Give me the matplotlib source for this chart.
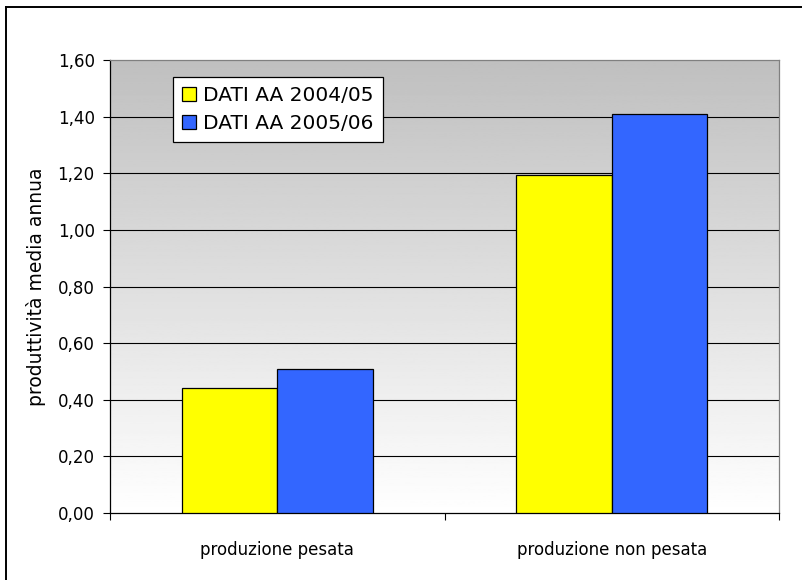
import numpy as np
import matplotlib
matplotlib.use("Agg")
import matplotlib.pyplot as plt
from matplotlib.lines import Line2D

categorie = ["produzione pesata", "produzione non pesata"]
dati_0405 = [0.44, 1.195]
dati_0506 = [0.51, 1.41]
serie = ["DATI AA 2004/05", "DATI AA 2005/06"]
yticks = [0.0, 0.2, 0.4, 0.6, 0.8, 1.0, 1.2, 1.4, 1.6]

plt.rcParams['font.family'] = ['DejaVu Sans']

fig = plt.figure(figsize=(8.02, 5.80), dpi=100)
W, H = 802, 580

# cornice esterna del grafico (esce dal bordo a destra e in basso)
fig.add_artist(Line2D([6 / W, 1.01], [1 - 7 / H, 1 - 7 / H], color="black", lw=1.4,
                      transform=fig.transFigure))
fig.add_artist(Line2D([6 / W, 6 / W], [1 - 7 / H, -0.01], color="black", lw=1.4,
                      transform=fig.transFigure))

left, right, top, bottom = 110, 779, 60, 513
ax = fig.add_axes([left / W, 1 - bottom / H, (right - left) / W, (bottom - top) / H])

# sfondo sfumato grigio -> bianco
grad = np.linspace(1.0, 0.75, 256).reshape(-1, 1)
ax.imshow(grad, cmap="gray", vmin=0, vmax=1, aspect="auto",
          extent=[0, 1, 0, 1], transform=ax.transAxes, origin="lower", zorder=0)

x = np.arange(len(categorie))
bw = 1 / 3.5
ax.bar(x - bw / 2, dati_0405, bw, color="#ffff00", edgecolor="black", lw=0.9,
       label=serie[0], zorder=3)
ax.bar(x + bw / 2, dati_0506, bw, color="#3366ff", edgecolor="black", lw=0.9,
       label=serie[1], zorder=3)

ax.set_xlim(-0.5, 1.5)
ax.set_ylim(0, 1.6)

for v in yticks[1:-1]:
    ax.axhline(v, color="black", lw=0.8, zorder=1)

ax.set_yticks(yticks)
ax.set_yticklabels([f"{v:.2f}".replace(".", ",") for v in yticks], fontsize=12)
ax.tick_params(axis="y", direction="out", length=5, width=0.8, pad=6)

ax.set_xticks(x)
ax.set_xticklabels(categorie, fontsize=12)
ax.tick_params(axis="x", which="major", length=0, pad=20)
ax.set_xticks([-0.5, 0.5, 1.5], minor=True)
ax.tick_params(axis="x", which="minor", direction="out", length=5, width=0.8)

ax.set_ylabel("produttività media annua", fontsize=13.5, labelpad=8)

for s in ["left", "bottom"]:
    ax.spines[s].set_color("black")
    ax.spines[s].set_linewidth(0.9)
for s in ["top", "right"]:
    ax.spines[s].set_color("#808080")
    ax.spines[s].set_linewidth(0.9)

leg = ax.legend(loc="upper left", bbox_to_anchor=(0.094, 0.963), fontsize=14.5,
                frameon=True, fancybox=False, edgecolor="black", framealpha=1,
                handlelength=0.7, handleheight=0.7, handletextpad=0.35,
                borderpad=0.45, labelspacing=0.45, borderaxespad=0)
leg.get_frame().set_linewidth(0.9)
leg.set_zorder(5)

fig.savefig("out.png", dpi=100)
